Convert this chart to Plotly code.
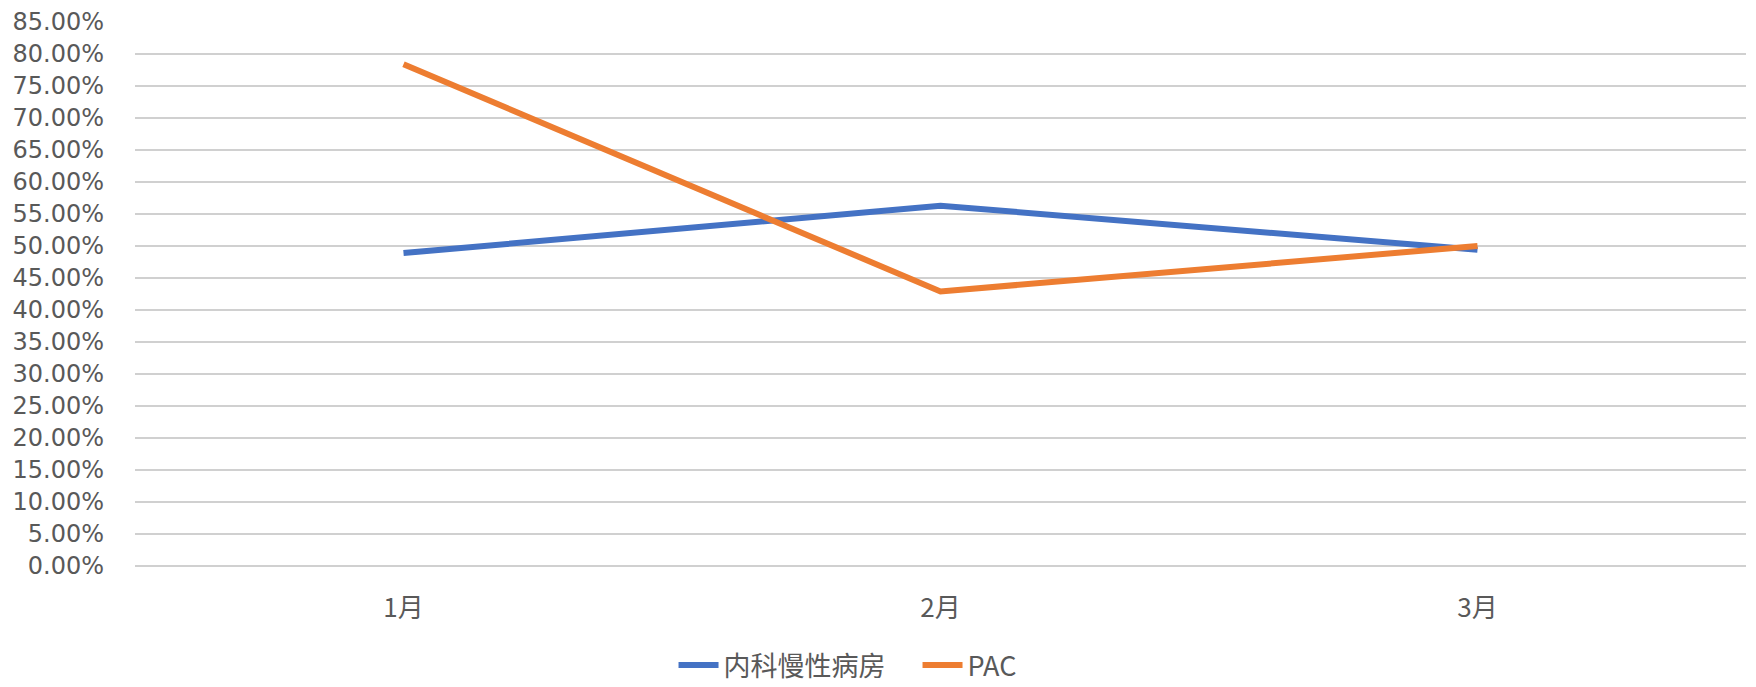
import plotly.graph_objects as go

categories = ["1月", "2月", "3月"]
series_names = ["内科慢性病房", "PAC"]
ward_values = [0.489, 0.563, 0.494]
pac_values = [0.784, 0.429, 0.500]
y_ticks = [i * 0.05 for i in range(18)]

FONT = "DejaVu Sans, Noto Sans CJK SC, sans-serif"
CJK = "Noto Sans CJK SC, DejaVu Sans, sans-serif"
TXT = "#595959"
GRID = "#d0d0d0"

fig = go.Figure()
fig.add_trace(go.Scatter(x=categories, y=ward_values, name=series_names[0], mode="lines",
                         line=dict(color="#4472C4", width=6)))
fig.add_trace(go.Scatter(x=categories, y=pac_values, name=series_names[1], mode="lines",
                         line=dict(color="#ED7D31", width=6)))

fig.update_layout(
    width=1756, height=687,
    margin=dict(l=127, r=18, t=14, b=129, autoexpand=False),
    paper_bgcolor="white", plot_bgcolor="white",
    font=dict(family=FONT, size=24, color=TXT),
    showlegend=True,
    legend=dict(orientation="h", xref="container", yref="container",
                x=0.379, xanchor="left", y=0.043, yanchor="middle",
                font=dict(family=CJK, size=27, color=TXT), itemwidth=40,
                entrywidth=189, tracegroupgap=0),
    xaxis=dict(type="category", range=[-0.5, 2.5], showgrid=False, zeroline=False,
               showline=False, ticks="", ticklabelstandoff=24, automargin=False,
               tickfont=dict(family=CJK, size=26, color=TXT)),
    yaxis=dict(range=[0, 0.85], tickvals=y_ticks, tickformat=".2%", showgrid=True,
               gridcolor=GRID, gridwidth=1.5, zeroline=True, zerolinecolor=GRID,
               zerolinewidth=1.5, showline=False, automargin=False,
               ticks="", ticklabelstandoff=30,
               tickfont=dict(family=FONT, size=24, color=TXT)),
)

fig.write_html("out.html")
